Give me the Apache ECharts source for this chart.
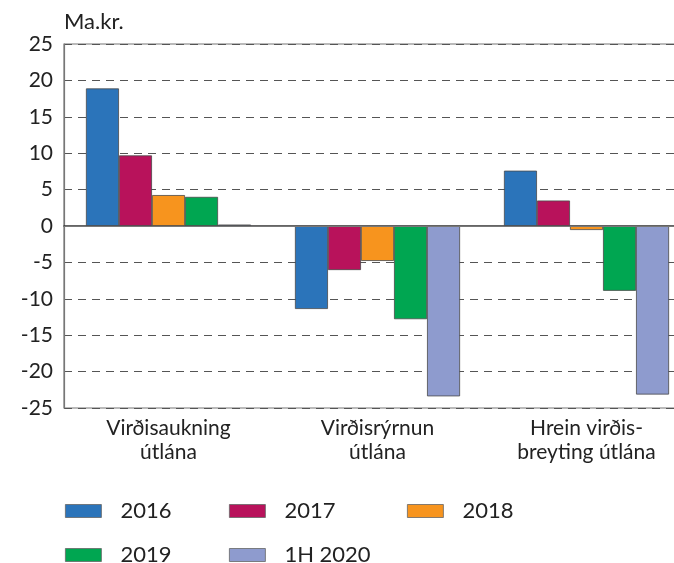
<!DOCTYPE html>
<html>
<head>
<meta charset="utf-8">
<script src="https://cdn.jsdelivr.net/npm/echarts@6/dist/echarts.min.js"></script>
<style>
  html, body { margin: 0; padding: 0; background: #fff; }
  #chart { width: 674px; height: 563px; }
</style>
</head>
<body>
<div id="chart"></div>
<script>
var categories = ['Virðisaukning\nútlána', 'Virðisrýrnun\nútlána', 'Hrein virðis-\nbreyting útlána'];
var yTicks = [-25, 25, 5];
var s2016 = [18.9, -11.4, 7.6];
var s2017 = [9.7, -6.05, 3.5];
var s2018 = [4.25, -4.8, -0.55];
var s2019 = [4.0, -12.8, -8.9];
var s2020 = [0.2, -23.4, -23.15];

var font = 'Lato';
var chart = echarts.init(document.getElementById('chart'));

function bar(name, data, color) {
    return {
        name: name,
        type: 'bar',
        data: data,
        barGap: 0,
        barCategoryGap: '21%',
        itemStyle: { color: color, borderColor: '#4a4a4a', borderWidth: 0.8 }
    };
}

var series = [
    bar('2016', s2016, '#2B74BA'),
    bar('2017', s2017, '#B8125B'),
    bar('2018', s2018, '#F7941E'),
    bar('2019', s2019, '#00A651'),
    bar('1H 2020', s2020, '#8E9BCE')
];
series[0].markLine = {
    silent: true,
    symbol: 'none',
    label: { show: false },
    lineStyle: { color: '#777', type: 'solid', width: 1.2 },
    data: [{ yAxis: 0 }]
};

function legend(names, left) {
    return {
        data: names,
        orient: 'vertical',
        left: left,
        top: 500,
        height: 100,
        padding: 0,
        itemWidth: 36,
        itemHeight: 13,
        itemGap: 22,
        icon: 'rect',
        textStyle: { fontFamily: font, fontSize: 22, color: '#222', lineHeight: 22, padding: [0, 0, 0, 14] },
        itemStyle: { borderColor: '#666', borderWidth: 0.8 }
    };
}

option = {
    animation: false,
    graphic: [{
        type: 'text',
        left: 64,
        top: 11,
        style: { text: 'Ma.kr.', font: '22px ' + font, fill: '#222' }
    }],
    legend: [
        legend(['2016', '2019'], 65),
        legend(['2017', '1H 2020'], 229),
        legend(['2018'], 407)
    ],
    grid: {
        left: 64,
        top: 44,
        width: 627,
        bottom: 155,
        outerBoundsMode: 'none',
        show: true,
        borderColor: '#777',
        borderWidth: 1.2
    },
    xAxis: {
        type: 'category',
        data: categories,
        axisLine: { lineStyle: { color: '#333', width: 1.5 } },
        axisTick: { length: 12, lineStyle: { color: '#666', width: 1.2 } },
        axisLabel: { fontFamily: font, fontSize: 21, color: '#222', lineHeight: 24, margin: 8 }
    },
    yAxis: {
        type: 'value',
        min: yTicks[0],
        max: yTicks[1],
        interval: yTicks[2],
        axisLine: { show: true, lineStyle: { color: '#777', width: 1.2 } },
        axisTick: { show: false },
        axisLabel: { fontFamily: font, fontSize: 21, color: '#222', margin: 11 },
        splitLine: { lineStyle: { color: '#555', type: [8, 6], width: 1.2 } }
    },
    series: series
};

chart.setOption(option);
</script>
</body>
</html>
